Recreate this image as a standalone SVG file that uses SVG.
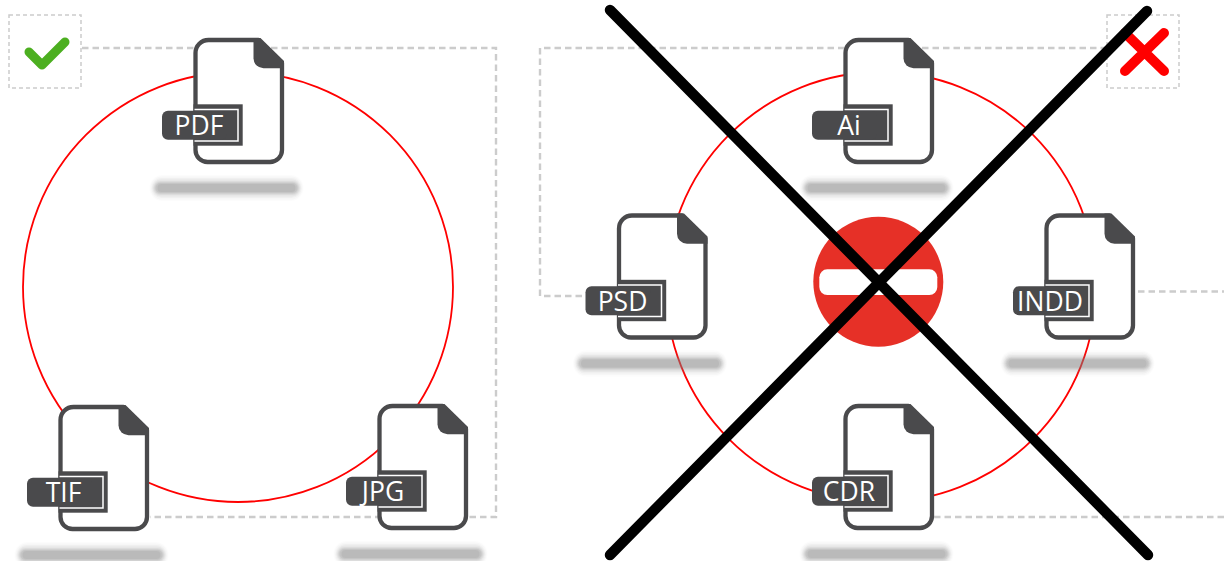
<svg xmlns="http://www.w3.org/2000/svg" width="1224" height="561" viewBox="0 0 1224 561">
<style>
.ring{fill:none;stroke:#f00;stroke-width:1.800}
.dash{fill:none;stroke:#ccc;stroke-width:2.400;stroke-dasharray:6.500 4}
.box{fill:#fff;stroke:#ccc;stroke-width:1.500;stroke-dasharray:4 3}
.lbl{font-family:"Open Sans","Liberation Sans",sans-serif;font-size:26.500px;font-weight:400;fill:#fff;text-anchor:middle}
.bar{fill:none;stroke:#000;stroke-width:10.500;stroke-linecap:round}
.sh rect{fill:#808080}
</style>
<defs>
<g id="shadow" class="sh">
<rect x="-44" y="137" width="154" height="26" rx="13" fill-opacity=".025"/>
<rect x="-43" y="138.500" width="152" height="23" rx="11.500" fill-opacity=".04"/>
<rect x="-42" y="140" width="150" height="20" rx="10" fill-opacity=".06"/>
<rect x="-41" y="141.500" width="148" height="17" rx="8.500" fill-opacity=".08"/>
<rect x="-40" y="143" width="146" height="14" rx="7" fill-opacity=".1"/>
<rect x="-39" y="144" width="144" height="12" rx="6" fill-opacity=".12"/>
<rect x="-38" y="145" width="142" height="10" rx="5" fill-opacity=".14"/>
<rect x="-36" y="146" width="138" height="8" rx="4" fill-opacity=".16"/>
</g>
<g id="file">
<use href="#shadow"/>
<path d="M15 2H65L88.500 25V112A12 12 0 0 1 76.500 124H14A12 12 0 0 1 2 112V15A13 13 0 0 1 15 2Z" fill="#fff" stroke="#4a4a4c" stroke-width="4.300" stroke-linejoin="round"/>
<path d="M60 0H67L90.500 23V30.300H70A10 10 0 0 1 60 20.300Z" fill="#4a4a4c"/>
<rect x="0" y="66.300" width="49.200" height="41.400" fill="#4a4a4c"/>
<rect x="-31.500" y="72.700" width="65" height="29" rx="6" fill="#4a4a4c"/>
<path d="M1 71.500H44.500V103H1" fill="none" stroke="#fff" stroke-width="1.500"/>
</g>
</defs>
<g id="connectors">
<circle class="ring" cx="238" cy="287" r="215"/>
<circle class="ring" cx="881" cy="287" r="215"/>
<path class="dash" d="M82 48H496V517H150"/>
<path class="dash" d="M1107 48H540V296H585"/>
<path class="dash" d="M1138 291.500H1224"/>
<path class="dash" d="M934 517H1224"/>
</g>
<g id="ok-badge">
<rect class="box" x="9" y="15" width="72" height="73"/>
<path d="M29 52L42 65L65 42" fill="none" stroke="#4caf20" stroke-width="9" stroke-linecap="round" stroke-linejoin="round"/>
</g>
<g id="no-badge">
<rect class="box" x="1107" y="15" width="72" height="73"/>
<path d="M1125 33L1164 71M1164 33L1125 71" fill="none" stroke="#f00" stroke-width="10" stroke-linecap="round"/>
</g>
<g id="node-pdf" transform="translate(193.500 38)"><use href="#file"/><text class="lbl" x="5.500" y="97">PDF</text></g>
<g id="node-tif" transform="translate(58.500 405)"><use href="#file"/><text class="lbl" x="5" y="97">TIF</text></g>
<g id="node-jpg" transform="translate(377.500 404)"><use href="#file"/><text class="lbl" x="5.500" y="97">JPG</text></g>
<g id="node-ai" transform="translate(843.500 38)"><use href="#file"/><text class="lbl" x="5.500" y="97">Ai</text></g>
<g id="node-psd" transform="translate(617 213.500)"><use href="#file"/><text class="lbl" x="5.500" y="97">PSD</text></g>
<g id="node-indd" transform="translate(1044.500 213.500)"><use href="#file"/><text class="lbl" x="5.500" y="97">INDD</text></g>
<g id="node-cdr" transform="translate(843.500 404)"><use href="#file"/><text class="lbl" x="5.500" y="97">CDR</text></g>
<g id="no-entry">
<circle cx="878.300" cy="281.800" r="65" fill="#e63027"/>
<rect x="819.300" y="269.300" width="118" height="25.700" rx="8" fill="#fff"/>
</g>
<g id="cross">
<path class="bar" d="M610 10L1148 555"/>
<path class="bar" d="M1147 11L610 555"/>
</g>
</svg>
